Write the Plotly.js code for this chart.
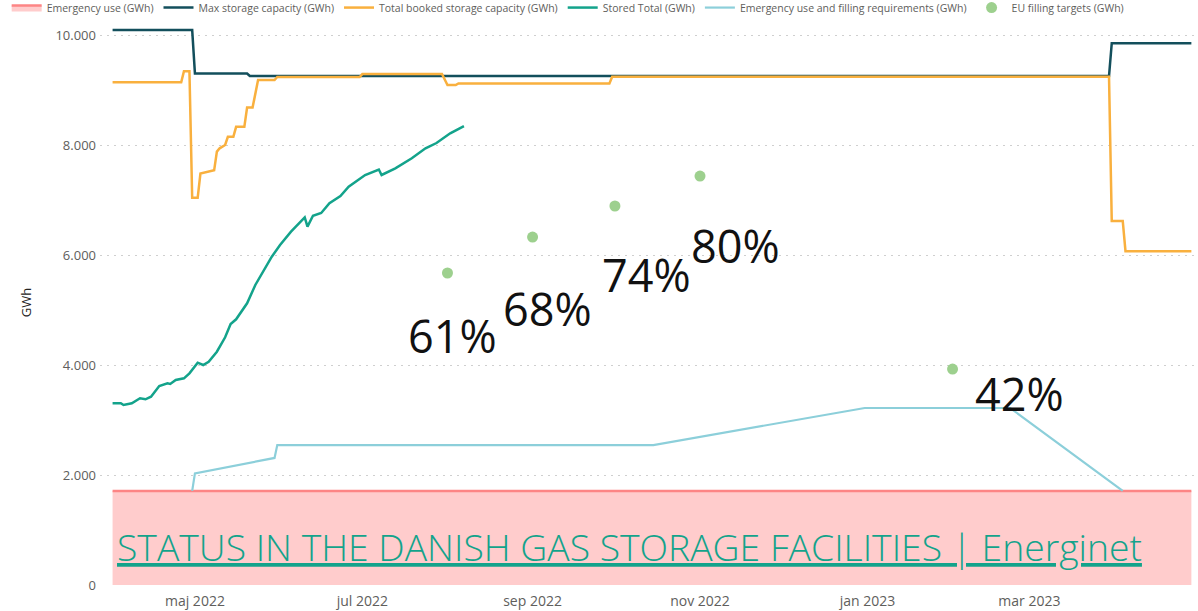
<!DOCTYPE html>
<html>
<head>
<meta charset="utf-8">
<script src="https://cdn.plot.ly/plotly-3.0.1.min.js"></script>
<style>html,body{margin:0;padding:0;background:#fff;}#chart{width:1198px;height:611px;}</style>
</head>
<body>
<div id="chart"></div>
<script>
// ---- Data ----
const seriesNames = [
  'Emergency use (GWh)',
  'Max storage capacity (GWh)',
  'Total booked storage capacity (GWh)',
  'Stored Total (GWh)',
  'Emergency use and filling requirements (GWh)',
  'EU filling targets (GWh)'
];

const emergencyDates = ['2022-04-01', '2023-04-29'];
const emergencyValues = [1710, 1710];

const maxCapDates = ['2022-04-01','2022-04-30','2022-05-01','2022-05-20','2022-05-21','2023-03-30','2023-03-31','2023-04-29'];
const maxCapValues = [10090, 10090, 9300, 9300, 9255, 9255, 9850, 9850];

const bookedDates = ['2022-04-01','2022-04-26','2022-04-27','2022-04-29','2022-04-30','2022-05-02','2022-05-03','2022-05-08',
  '2022-05-09','2022-05-10','2022-05-12','2022-05-13','2022-05-15','2022-05-16','2022-05-19','2022-05-20','2022-05-22',
  '2022-05-24','2022-05-30','2022-05-31','2022-06-30','2022-07-01','2022-07-30','2022-08-01','2022-08-04','2022-08-05',
  '2022-09-29','2022-09-30','2023-03-30','2023-03-31','2023-04-04','2023-04-05','2023-04-29'];
const bookedValues = [9140, 9140, 9340, 9340, 7040, 7040, 7480, 7540,
  7880, 7940, 8000, 8150, 8150, 8330, 8330, 8680, 8680,
  9180, 9180, 9236, 9236, 9290, 9290, 9090, 9090, 9120,
  9120, 9240, 9240, 6620, 6620, 6070, 6070];

const storedDates = ['2022-04-01','2022-04-04','2022-04-05','2022-04-08','2022-04-11','2022-04-13','2022-04-15','2022-04-18',
  '2022-04-21','2022-04-22','2022-04-24','2022-04-27','2022-04-29','2022-05-02','2022-05-04','2022-05-06','2022-05-09',
  '2022-05-12','2022-05-14','2022-05-16','2022-05-20','2022-05-23','2022-05-29','2022-06-01','2022-06-05','2022-06-08',
  '2022-06-10','2022-06-11','2022-06-13','2022-06-16','2022-06-19','2022-06-23','2022-06-26','2022-07-02','2022-07-07',
  '2022-07-08','2022-07-13','2022-07-19','2022-07-24','2022-07-28','2022-08-02','2022-08-07'];
const storedValues = [3304, 3304, 3273, 3304, 3395, 3376, 3424, 3618,
  3667, 3655, 3727, 3758, 3849, 4042, 4000, 4060, 4242,
  4504, 4745, 4831, 5122, 5455, 5969, 6182, 6424, 6587,
  6685, 6515, 6713, 6764, 6940, 7073, 7242, 7455, 7555,
  7455, 7576, 7758, 7940, 8036, 8213, 8345];

const fillReqDates = ['2022-04-30','2022-05-01','2022-05-30','2022-05-31','2022-10-15','2022-12-31','2023-02-22','2023-04-04'];
const fillReqValues = [1710, 2030, 2310, 2545, 2545, 3218, 3218, 1710];

const euTargetDates = ['2022-08-01','2022-09-01','2022-10-01','2022-11-01','2023-02-01'];
const euTargetValues = [5673, 6327, 6891, 7436, 3927];
const euTargetLabels = ['61%', '68%', '74%', '80%', '42%'];

const xTickVals = ['2022-05-01','2022-07-01','2022-09-01','2022-11-01','2023-01-01','2023-03-01'];
const xTickText = ['maj 2022','jul 2022','sep 2022','nov 2022','jan 2023','mar 2023'];
const yTickVals = [0, 2000, 4000, 6000, 8000, 10000];

const bannerText = 'STATUS IN THE DANISH GAS STORAGE FACILITIES | Energinet';

// ---- Label placement (layout only) ----
const labelPos = [
  {x: '2022-08-02 19:00', y: 4545},
  {x: '2022-09-06 14:00', y: 5036},
  {x: '2022-10-12 12:00', y: 5645},
  {x: '2022-11-13 22:00', y: 6173},
  {x: '2023-02-25 12:00', y: 3482}
];

const colors = {
  red: '#FD8585', redFill: '#FFCCCC', dark: '#134F5C', orange: '#F9B03E',
  green: '#13A38B', blue: '#8CCFDA', lightGreen: '#9DD08E', tick: '#605E5C'
};

const traces = [
  {x: emergencyDates, y: emergencyValues, name: seriesNames[0], type: 'scatter', mode: 'lines',
   line: {color: colors.red, width: 2.5}, fill: 'tozeroy', fillcolor: colors.redFill},
  {x: maxCapDates, y: maxCapValues, name: seriesNames[1], type: 'scatter', mode: 'lines',
   line: {color: colors.dark, width: 2.5}},
  {x: bookedDates, y: bookedValues, name: seriesNames[2], type: 'scatter', mode: 'lines',
   line: {color: colors.orange, width: 2.5}},
  {x: storedDates, y: storedValues, name: seriesNames[3], type: 'scatter', mode: 'lines',
   line: {color: colors.green, width: 2.5}},
  {x: fillReqDates, y: fillReqValues, name: seriesNames[4], type: 'scatter', mode: 'lines',
   line: {color: colors.blue, width: 2.2}},
  {x: euTargetDates, y: euTargetValues, name: seriesNames[5], type: 'scatter', mode: 'markers',
   marker: {color: colors.lightGreen, size: 11}}
];

const annotations = euTargetLabels.map((t, i) => ({
  x: labelPos[i].x, y: labelPos[i].y, xref: 'x', yref: 'y', text: t, showarrow: false,
  xanchor: 'center', yanchor: 'middle',
  font: {family: 'Open Sans, sans-serif', size: 45, color: '#111111'}
}));
annotations.push({
  x: 0.0137, y: 0.069, xref: 'paper', yref: 'paper', xanchor: 'left', yanchor: 'middle',
  text: '<u>' + bannerText + '</u>', showarrow: false,
  font: {family: 'Open Sans, sans-serif', size: 37.3, weight: 300, color: colors.green}
});

const layout = {
  width: 1198, height: 611,
  margin: {l: 100, r: 0, t: 20, b: 26, autoexpand: false},
  paper_bgcolor: '#ffffff', plot_bgcolor: '#ffffff',
  separators: ',.',
  showlegend: true,
  legend: {orientation: 'h', x: -0.085, xanchor: 'left', y: 1.022, yanchor: 'middle',
    itemwidth: 30, tracegroupgap: 0,
    font: {family: 'Open Sans, sans-serif', size: 10.5, color: '#605E5C'}, bgcolor: 'rgba(0,0,0,0)'},
  xaxis: {type: 'date', range: ['2022-03-27 10:00', '2023-05-01 10:00'], tickmode: 'array',
    tickvals: xTickVals, ticktext: xTickText, showgrid: false, zeroline: false, showline: false,
    ticks: '', ticklabelstandoff: 6,
    tickfont: {family: 'Open Sans, sans-serif', size: 14, color: colors.tick}, automargin: false},
  yaxis: {range: [0, 10273], tickmode: 'array', tickvals: yTickVals, tickformat: ',d',
    showgrid: true, gridcolor: '#CFCFCF', griddash: '2px,5px', gridwidth: 1.2, zeroline: false, showline: false,
    ticks: '', ticklabelstandoff: 3,
    tickfont: {family: 'Open Sans, sans-serif', size: 13, color: colors.tick}, automargin: false,
    title: {text: 'GWh', font: {family: 'Open Sans, sans-serif', size: 13, color: '#252423'}, standoff: 20}},
  annotations: annotations
};

Plotly.newPlot('chart', traces, layout, {displayModeBar: false, responsive: false});
</script>
</body>
</html>
